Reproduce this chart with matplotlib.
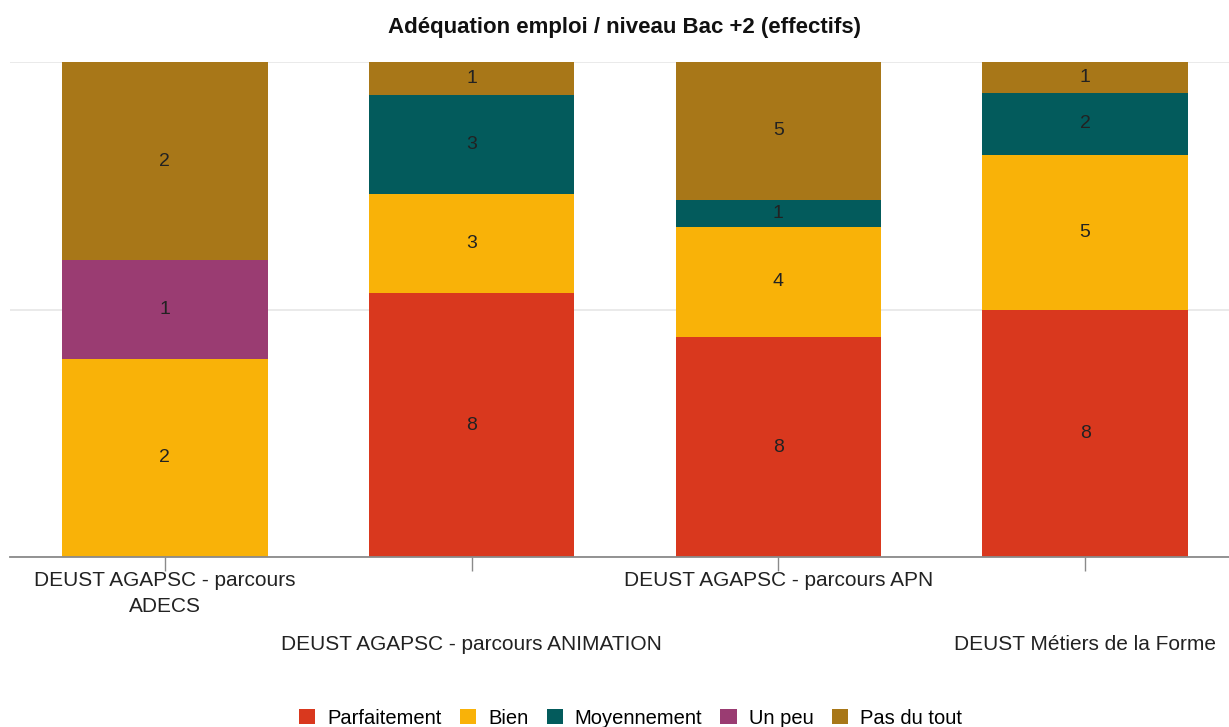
import numpy as np
import matplotlib.pyplot as plt

# chart data
formations = ["DEUST AGAPSC - parcours\nADECS",
              "DEUST AGAPSC - parcours ANIMATION",
              "DEUST AGAPSC - parcours APN",
              "DEUST Métiers de la Forme"]
levels = ["Parfaitement", "Bien", "Moyennement", "Un peu", "Pas du tout"]
parfaitement = [0, 8, 8, 8]
bien = [2, 3, 4, 5]
moyennement = [0, 3, 1, 2]
un_peu = [1, 0, 0, 0]
pas_du_tout = [2, 1, 5, 1]

colors = ["#D9381E", "#F9B208", "#035B5C", "#9A3C72", "#A87718"]

plt.rcParams["font.family"] = ["Liberation Sans", "DejaVu Sans"]

counts = np.array([parfaitement, bien, moyennement, un_peu, pas_du_tout], dtype=float)
totals = counts.sum(axis=0)
shares = counts / totals

fig = plt.figure(figsize=(12.29, 7.27), dpi=100)
ax = fig.add_axes([10 / 1229, 170 / 727, 1219 / 1229, 495 / 727])

x = np.arange(len(formations))
bottom = np.zeros(len(formations))
for i, lev in enumerate(levels):
    ax.bar(x, shares[i], 0.67, bottom=bottom, color=colors[i], label=lev, zorder=2)
    for j in range(len(formations)):
        if counts[i, j] > 0:
            ax.text(x[j], bottom[j] + shares[i, j] / 2, "%d" % counts[i, j],
                    ha="center", va="center", fontsize=14, color="#222222", zorder=3)
    bottom += shares[i]

ax.set_xlim(-0.505, 3.469)
ax.set_ylim(0, 1)
ax.set_yticks([0, 0.5, 1])
ax.yaxis.grid(True, color="#e6e6e6", linewidth=1.2, zorder=0)
ax.set_yticklabels([])
ax.tick_params(axis="y", length=0)
for s in ["top", "right", "left"]:
    ax.spines[s].set_visible(False)
ax.spines["bottom"].set_color("#8a8a8a")
ax.spines["bottom"].set_linewidth(1.3)
ax.spines["bottom"].set_zorder(4)

ax.set_xticks(x)
ax.set_xticklabels([])
ax.tick_params(axis="x", length=10, color="#8a8a8a", width=1)

# staggered category labels
trans = ax.get_xaxis_transform()
for j, name in enumerate(formations):
    ypos = -0.028 if j % 2 == 0 else -0.158
    ax.text(x[j], ypos, name, transform=trans, ha="center", va="top",
            fontsize=15, color="#222222", linespacing=1.45)

fig.text(0.508, 0.962, "Adéquation emploi / niveau Bac +2 (effectifs)",
         ha="center", va="center", fontsize=16, fontweight="bold", color="#111111")

fig.legend(loc="lower center", bbox_to_anchor=(0.513, -0.026), ncol=5,
           frameon=False, fontsize=14.5, handlelength=0.8, handleheight=0.8,
           handletextpad=0.6, columnspacing=0.9)

fig.savefig("out.png", dpi=100)
